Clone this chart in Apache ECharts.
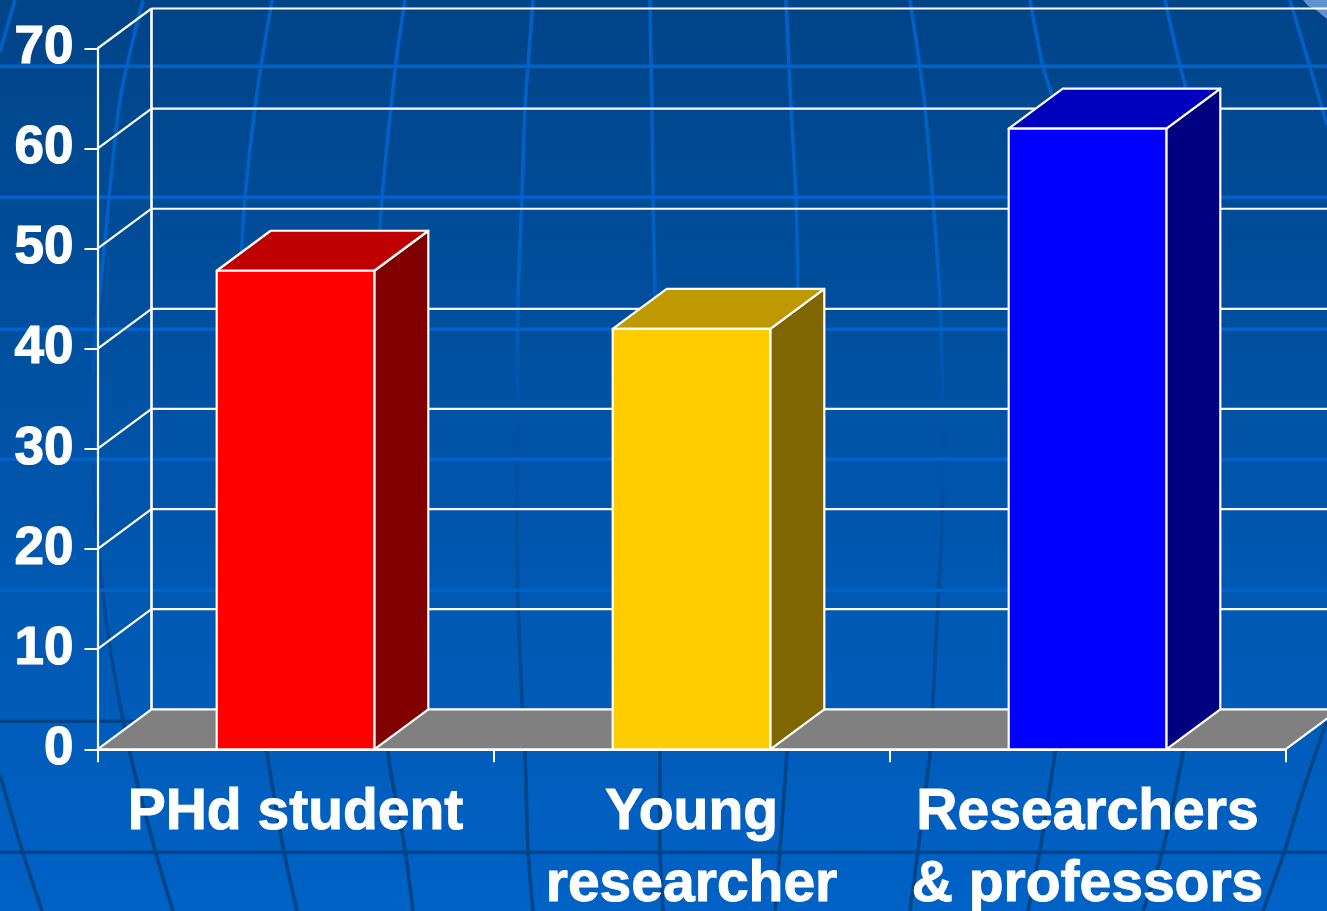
<!DOCTYPE html>
<html>
<head>
<meta charset="utf-8">
<style>html,body{margin:0;padding:0;background:#0050a0;overflow:hidden}#c{width:1327px;height:911px}</style>
<script src="https://cdn.jsdelivr.net/npm/echarts@6/dist/echarts.min.js"></script>
</head>
<body>
<div id="c"></div>
<script>
const categories = ['PHd student', 'Young\nresearcher', 'Researchers\n& professors'];
const values = [47.8, 42, 62];
const valueTicks = [0, 10, 20, 30, 40, 50, 60, 70];

const frontColors = ['#ff0000', '#ffcc00', '#0000ff'];
const topColors = ['#bf0000', '#bf9900', '#0000bf'];
const sideColors = ['#800000', '#806600', '#000080'];

const depthX = 54, depthY = 40, barShare = 0.398;
const FONT = '"Liberation Sans", Arial, sans-serif';

// Decorative backdrop of the slide (globe grid)
const parallelsLight = [66, 197, 329, 459, 590];
const parallelsDark = [721, 852];
const meridians = [
  [[15,0],[0,52]],
  [[143,0],[120,100],[104,250],[92,383],[93,470],[100,567],[112,660],[130,753],[155,850],[173,911]],
  [[272,0],[256,100],[243,225],[238,400],[245,600],[267,753],[283,847],[297,911]],
  [[405,0],[395,70],[380,225],[373,400],[375,600],[388,753],[405,850],[413,911]],
  [[533,0],[528,66],[525,107],[522,197],[518,300],[517,500],[518,600],[522,700],[525,753],[528,850],[533,911]],
  [[650,0],[651,66],[652,107],[653,197],[655,290],[658,500],[660,753],[660,850],[663,911]],
  [[786,0],[789,66],[791,107],[796,197],[798,290],[802,450],[795,650],[787,753],[780,850],[775,911]],
  [[910,0],[920,67],[925,107],[933,200],[940,300],[943,420],[942,530],[938,600],[933,700],[930,753],[918,850],[910,911]],
  [[1030,0],[1043,67],[1053,100],[1075,300],[1078,500],[1068,650],[1055,753],[1040,850],[1028,911]],
  [[1165,0],[1180,66],[1185,85],[1210,300],[1212,500],[1200,650],[1183,753],[1162,853],[1143,911]],
  [[1290,0],[1310,67],[1327,125]],
  [[1327,720],[1300,800],[1285,850],[1263,911]],
  [[0,775],[22,850],[42,911]]
];

const G = echarts.graphic.LinearGradient;
const bg = new G(0, 0, 0, 911, [
  {offset: 0, color: '#004488'},
  {offset: 0.5, color: '#0054a8'},
  {offset: 1, color: '#0062c6'}
], true);
const meridianColor = new G(0, 0, 0, 911, [
  {offset: 0, color: '#0060c8'},
  {offset: 0.30, color: '#0060c4'},
  {offset: 0.45, color: '#0052a8'},
  {offset: 0.62, color: '#004c9c'},
  {offset: 0.85, color: '#004488'},
  {offset: 1, color: '#004488'}
], true);

const backdrop = [];
meridians.forEach(p => backdrop.push({
  type: 'polyline', silent: true, z: -1,
  shape: {points: p, smooth: 0.25},
  style: {stroke: meridianColor, lineWidth: 3.6, fill: null}
}));
parallelsLight.forEach(y => backdrop.push({
  type: 'rect', silent: true, z: -1,
  shape: {x: 0, y: y - 1.5, width: 1327, height: 3.4},
  style: {fill: '#0062ca'}
}));
parallelsDark.forEach(y => backdrop.push({
  type: 'rect', silent: true, z: -1,
  shape: {x: 0, y: y - 1.5, width: 1327, height: 3.4},
  style: {fill: '#004488'}
}));
backdrop.push({
  type: 'polygon', silent: true, z: -1,
  shape: {points: [[1303,0],[1327,0],[1327,19],[1316,10],[1308,6]]},
  style: {fill: '#5f92cf'}
});

const WHITE = {stroke: '#ffffff', lineWidth: 2.2};

function renderWall(params, api) {
  const r = params.coordSys;
  const v = api.value(1);
  const p = api.coord([0, v]);
  const left = r.x, right = r.x + r.width, bottom = r.y + r.height;
  const children = [];
  if (v === 0) {
    children.push({
      type: 'polygon',
      shape: {points: [[left, bottom], [left + depthX, bottom - depthY], [right + depthX, bottom - depthY], [right, bottom]]},
      style: {fill: '#808080', stroke: '#ffffff', lineWidth: 2.2, lineJoin: 'miter'}
    });
    children.push({
      type: 'line',
      shape: {x1: left + depthX, y1: r.y - depthY, x2: left + depthX, y2: bottom - depthY},
      style: Object.assign({}, WHITE, {lineWidth: 2.6})
    });
  } else {
    children.push({
      type: 'line',
      shape: {x1: left, y1: p[1], x2: left + depthX, y2: p[1] - depthY},
      style: WHITE
    });
    children.push({
      type: 'line',
      shape: {x1: left + depthX, y1: p[1] - depthY, x2: right + depthX, y2: p[1] - depthY},
      style: WHITE
    });
  }
  return {type: 'group', children};
}

function renderBar(params, api) {
  const i = api.value(0);
  const top = api.coord([i, api.value(1)]);
  const base = api.coord([i, 0]);
  const w = api.size([1, 0])[0] * barShare;
  const x0 = top[0] - w / 2, x1 = top[0] + w / 2;
  const y0 = top[1], y1 = base[1];
  const edge = {stroke: '#ffffff', lineWidth: 2.2, lineJoin: 'round'};
  return {
    type: 'group',
    children: [
      {type: 'polygon',
       shape: {points: [[x1, y0], [x1 + depthX, y0 - depthY], [x1 + depthX, y1 - depthY], [x1, y1]]},
       style: Object.assign({fill: sideColors[i]}, edge)},
      {type: 'polygon',
       shape: {points: [[x0, y0], [x0 + depthX, y0 - depthY], [x1 + depthX, y0 - depthY], [x1, y0]]},
       style: Object.assign({fill: topColors[i]}, edge)},
      {type: 'rect',
       shape: {x: x0, y: y0, width: w, height: y1 - y0},
       style: Object.assign({fill: frontColors[i]}, edge)}
    ]
  };
}

const chart = echarts.init(document.getElementById('c'), null, {width: 1327, height: 911, renderer: 'canvas'});
chart.setOption({
  animation: false,
  backgroundColor: bg,
  graphic: {elements: backdrop},
  grid: {left: 97.5, right: 41.5, top: 48.5, bottom: 161.7, containLabel: false, outerBoundsMode: 'none'},
  xAxis: {
    type: 'category',
    data: categories,
    axisLine: {show: true, lineStyle: {color: '#fff', width: 2.2}},
    axisTick: {show: true, length: 13, lineStyle: {color: '#fff', width: 2}},
    axisLabel: {
      color: '#fff', fontFamily: FONT, fontWeight: 'bold', fontSize: 57,
      lineHeight: 72, margin: 28, interval: 0,
      textBorderColor: '#fff', textBorderWidth: 1
    }
  },
  yAxis: {
    type: 'value', min: 0, max: 70, interval: 10,
    splitLine: {show: false},
    axisLine: {show: true, lineStyle: {color: '#fff', width: 2.2}},
    axisTick: {show: true, length: 13, lineStyle: {color: '#fff', width: 2}},
    axisLabel: {
      color: '#fff', fontFamily: FONT, fontWeight: 'bold', fontSize: 53,
      margin: 24, padding: [2, 0, 0, 0],
      textBorderColor: '#fff', textBorderWidth: 1.2
    }
  },
  series: [
    {type: 'custom', z: 1, silent: true, renderItem: renderWall,
     data: valueTicks.map(v => [0, v]), encode: {x: 0, y: 1}},
    {type: 'custom', z: 2, silent: true, renderItem: renderBar,
     data: values.map((v, i) => [i, v]), encode: {x: 0, y: 1}}
  ]
});
</script>
</body>
</html>
